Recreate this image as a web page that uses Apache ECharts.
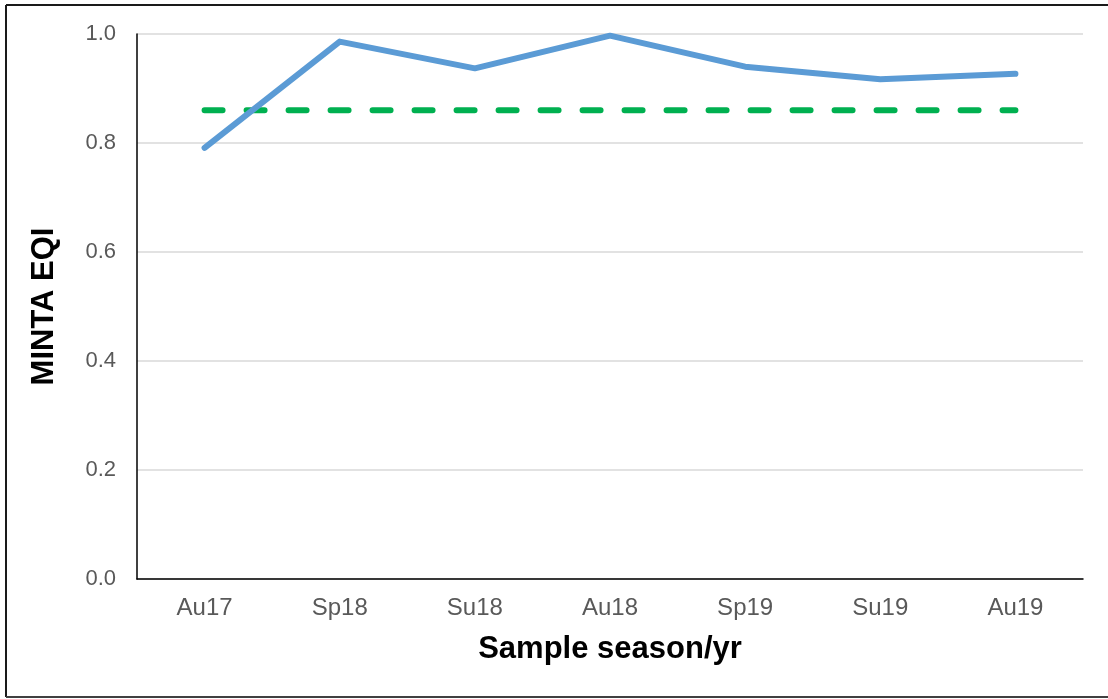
<!DOCTYPE html>
<html>
<head>
<meta charset="utf-8">
<title>MINTA EQI by sample season</title>
<script src="https://cdn.jsdelivr.net/npm/echarts@6/dist/echarts.min.js"></script>
<style>
  html, body { margin: 0; padding: 0; background: #ffffff; }
  #chart { width: 1108px; height: 699px; }
</style>
</head>
<body>
<div id="chart"></div>
<script>
// Sampling seasons (Au = autumn, Sp = spring, Su = summer)
const seasons = ['Au17', 'Sp18', 'Su18', 'Au18', 'Sp19', 'Su19', 'Au19'];
// MINTA Ecological Quality Index per season
const eqiValues = [0.791, 0.986, 0.937, 0.997, 0.940, 0.917, 0.927];
// Good/moderate class boundary
const thresholdValue = 0.86;
const thresholdValues = seasons.map(() => thresholdValue);
// Y-axis ticks
const yMin = 0, yMax = 1, yStep = 0.2;

const chart = echarts.init(document.getElementById('chart'), null, { renderer: 'canvas' });

const font = '"Liberation Sans", Arial, sans-serif';
const frameStyle = { stroke: '#1a1a1a', lineWidth: 2 };

chart.setOption({
  animation: false,
  backgroundColor: '#ffffff',
  grid: { left: 137, right: 25, top: 34, bottom: 120, containLabel: false },
  // Outer frame: top, left and bottom edges
  graphic: [
    { type: 'line', silent: true, shape: { x1: 6, y1: 5, x2: 1108, y2: 5 }, style: frameStyle },
    { type: 'line', silent: true, shape: { x1: 6, y1: 5, x2: 6, y2: 697 }, style: frameStyle },
    { type: 'line', silent: true, shape: { x1: 6, y1: 697, x2: 1108, y2: 697 }, style: { stroke: '#404040', lineWidth: 2 } }
  ],
  xAxis: {
    type: 'category',
    data: seasons,
    boundaryGap: true,
    name: 'Sample season/yr',
    nameLocation: 'middle',
    nameGap: 55,
    nameTextStyle: { fontFamily: font, fontSize: 31, fontWeight: 'bold', color: '#000000' },
    axisLine: { show: true, lineStyle: { color: '#000000', width: 1.5 } },
    axisTick: { show: false },
    axisLabel: { fontFamily: font, fontSize: 24, color: '#595959', margin: 17 },
    splitLine: { show: false }
  },
  yAxis: {
    type: 'value',
    min: yMin, max: yMax, interval: yStep,
    name: 'MINTA EQI',
    nameLocation: 'middle',
    nameGap: 77,
    nameTextStyle: { fontFamily: font, fontSize: 31, fontWeight: 'bold', color: '#000000' },
    axisLine: { show: true, lineStyle: { color: '#000000', width: 1.5 } },
    axisTick: { show: false },
    axisLabel: {
      fontFamily: font, fontSize: 22, color: '#595959', margin: 21,
      formatter: v => v.toFixed(1)
    },
    splitLine: { show: true, lineStyle: { color: '#d9d9d9', width: 1.5 } }
  },
  series: [
    {
      name: 'Threshold',
      type: 'line',
      data: thresholdValues,
      symbol: 'none',
      lineStyle: { color: '#00b050', width: 6, type: [18, 24], cap: 'round' },
      z: 2
    },
    {
      name: 'MINTA EQI',
      type: 'line',
      data: eqiValues,
      symbol: 'none',
      lineStyle: { color: '#5b9bd5', width: 6, cap: 'round', join: 'round' },
      z: 3
    }
  ]
});
</script>
</body>
</html>
